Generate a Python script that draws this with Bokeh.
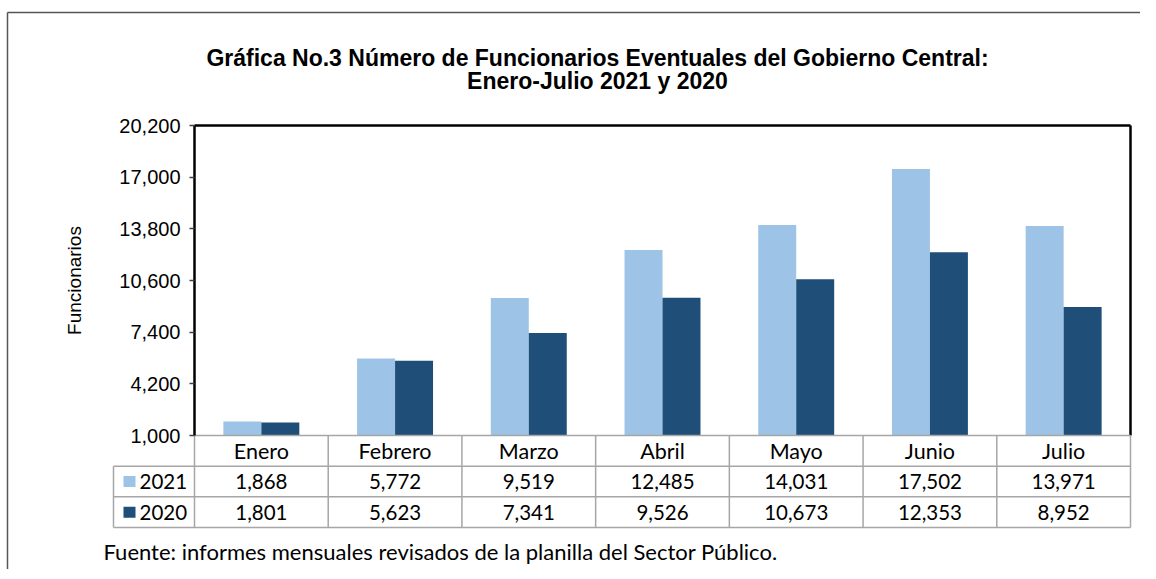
from bokeh.plotting import figure
from bokeh.models import ColumnDataSource, Range1d, FixedTicker, NumeralTickFormatter
from bokeh.core.properties import value
from bokeh.embed import file_html
from bokeh.resources import INLINE

# ---------------- data ----------------
months = ["Enero", "Febrero", "Marzo", "Abril", "Mayo", "Junio", "Julio"]
series_names = ["2021", "2020"]
values_2021 = [1868, 5772, 9519, 12485, 14031, 17502, 13971]
values_2020 = [1801, 5623, 7341, 9526, 10673, 12353, 8952]
y_ticks = [1000, 4200, 7400, 10600, 13800, 17000, 20200]
title_lines = ["Gráfica No.3 Número de Funcionarios Eventuales del Gobierno Central:",
               "Enero-Julio 2021 y 2020"]
y_label = "Funcionarios"
source_note = "Fuente: informes mensuales revisados de la planilla del Sector Público."

colors = ["#9DC3E6", "#1F4E79"]

# ---------------- layout (page pixels) ----------------
W, H = 1140, 569
M = 0
plot_left, plot_right = 194, 1130
plot_top, plot_bottom = 125, 435
table_left, table_bottom = 113, 527

n = len(months)
col_px = (plot_right - plot_left) / n
ymin, ymax = y_ticks[0], y_ticks[-1]
ky = (ymax - ymin) / (plot_bottom - plot_top)

x_start = ((M) - plot_left) / col_px
x_end = ((M + W) - plot_left) / col_px
y_start = ymin - ((M + H) - plot_bottom) * ky
y_end = ymax + (plot_top - M) * ky

row_px = (table_bottom - plot_bottom) / 3
t_start = -((M + H) - table_bottom) / row_px
t_end = 3 + (plot_bottom - M) / row_px


def xd(px):
    return (px - plot_left) / col_px


def yd(py):
    return ymin + (plot_bottom - py) * ky


def td(py):
    return (table_bottom - py) / row_px


p = figure(width=W, height=H, output_backend="svg", toolbar_location=None,
           x_range=Range1d(x_start, x_end), y_range=Range1d(y_start, y_end),
           x_axis_location=None, title=None,
           min_border_left=0, min_border_right=0, min_border_top=0, min_border_bottom=0)
p.extra_y_ranges = {"table": Range1d(t_start, t_end)}
p.outline_line_color = None
p.grid.visible = False
p.background_fill_color = "white"
p.border_fill_color = "white"

# y axis placed at the left edge of the plot area
ax = p.yaxis[0]
ax.fixed_location = 0
ax.bounds = (ymin, ymax)
ax.ticker = FixedTicker(ticks=y_ticks)
ax.formatter = NumeralTickFormatter(format="0,0")
ax.axis_line_color = "black"
ax.axis_line_width = 2.5
ax.major_tick_line_color = "#404040"
ax.major_tick_line_width = 1.5
ax.major_tick_out = 5
ax.major_tick_in = 0
ax.minor_tick_line_color = None
ax.major_label_text_font = "Liberation Sans"
ax.major_label_text_font_size = "20px"
ax.major_label_text_color = "black"
ax.major_label_standoff = 9
ax.axis_label = y_label
ax.axis_label_text_font = "Liberation Sans"
ax.axis_label_text_font_size = "19px"
ax.axis_label_text_font_style = "normal"
ax.axis_label_text_color = "black"
ax.axis_label_standoff = 31

# bars
bw = 0.284
idx = list(range(n))
src = ColumnDataSource(dict(
    x1=[i + 0.5 - bw / 2 for i in idx],
    x2=[i + 0.5 + bw / 2 for i in idx],
    v21=values_2021, v20=values_2020))
p.vbar(x="x1", top="v21", bottom=ymin, width=bw, source=src,
       fill_color=colors[0], line_color=None)
p.vbar(x="x2", top="v20", bottom=ymin, width=bw, source=src,
       fill_color=colors[1], line_color=None)

# plot area frame (top and right; left is the axis)
p.segment(x0=[0, n], y0=[ymax, ymax], x1=[n, n], y1=[ymax, ymin],
          line_color="black", line_width=2.5)

# data table grid
grid = "#A6A6A6"
tl = xd(table_left)
hx0 = [0, tl, tl, tl]
hx1 = [n, n, n, n]
hy = [3, 2, 1, 0]
p.segment(x0=hx0, y0=hy, x1=hx1, y1=hy, y_range_name="table",
          line_color=grid, line_width=1.5)
vx = [tl] + list(range(n + 1))
vy0 = [0] * (n + 2)
vy1 = [2] + [3] * (n + 1)
p.segment(x0=vx, y0=vy0, x1=vx, y1=vy1, y_range_name="table",
          line_color=grid, line_width=1.5)

tfont = value("Lato")
tsize = "20.5px"
centers = [i + 0.5 for i in idx]
p.text(x=centers, y=[2.5] * n, text=months, y_range_name="table",
       text_font=tfont, text_font_size="21.5px", text_align="center",
       text_baseline="middle", text_color="black")
p.text(x=centers, y=[1.5] * n, text=[f"{v:,}" for v in values_2021], y_range_name="table",
       text_font=tfont, text_font_size=tsize, text_align="center",
       text_baseline="middle", text_color="black")
p.text(x=centers, y=[0.5] * n, text=[f"{v:,}" for v in values_2020], y_range_name="table",
       text_font=tfont, text_font_size=tsize, text_align="center",
       text_baseline="middle", text_color="black")

# legend keys in the table
p.rect(x=[xd(129)] * 2, y=[1.5, 0.5], width=12, height=11, width_units="screen",
       height_units="screen", fill_color=colors, line_color=None, y_range_name="table")
p.text(x=[xd(139)] * 2, y=[1.5, 0.5], text=series_names, y_range_name="table",
       text_font=tfont, text_font_size=tsize, text_align="left",
       text_baseline="middle", text_color="black")

# title
p.text(x=[xd(597)] * 2, y=[yd(57), yd(80)], text=title_lines,
       text_font=value("Liberation Sans"), text_font_style="bold", text_font_size="23px",
       text_align="center", text_baseline="middle", text_color="black")

# source note
p.text(x=[xd(103)], y=[td(551)], text=[source_note], y_range_name="table",
       text_font=tfont, text_font_size="22px", text_align="left",
       text_baseline="middle", text_color="black")

# outer frame lines (top and left)
p.segment(x0=[xd(7), xd(7)], y0=[yd(12), yd(12)],
          x1=[x_end, xd(7)], y1=[yd(12), y_start],
          line_color="#555555", line_width=1.5)

open("out.html", "w").write(file_html(p, INLINE))
